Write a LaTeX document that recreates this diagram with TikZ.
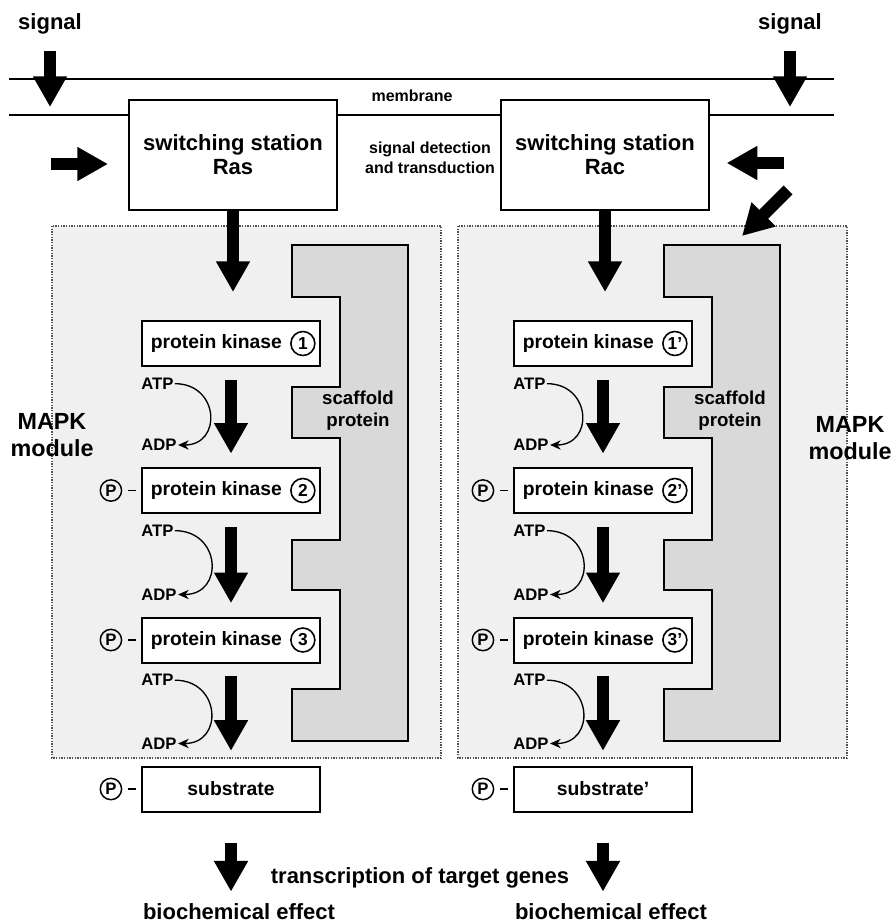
\documentclass[tikz,border=0pt]{standalone}
\usepackage{fontspec}
\setmainfont{Liberation Sans}
\usetikzlibrary{arrows.meta,positioning,calc}

\begin{document}
\begin{tikzpicture}[x=0.75pt, y=-0.75pt, font=\bfseries,
  blk/.style={line width=9.5pt, -{Triangle[width=24pt,length=23pt]}},
  box/.style={draw, line width=1.5pt, fill=white, inner sep=0pt},
  kin/.style={box, minimum width=133.5pt, minimum height=33.75pt, font=\fontsize{14.5}{17}\bfseries},
  num/.style={circle, draw, line width=1.2pt, inner sep=0pt, minimum size=18pt, font=\fontsize{13}{15}\bfseries},
  pho/.style={circle, draw, line width=1.1pt, inner sep=0pt, minimum size=16pt, font=\fontsize{12.5}{14}\bfseries},
  nuc/.style={font=\fontsize{12.5}{14}\bfseries, inner sep=1pt},
  big/.style={font=\fontsize{16.5}{18}\bfseries, align=center, inner sep=0pt},
  bond/.style={line width=1.2pt, shorten <=4.5pt, shorten >=3.5pt},
  atp/.style={line width=1pt, -{Stealth[length=8pt,width=7pt]}, out=0, in=0, looseness=1.85},
  module/.style={draw=gray!65!black, densely dotted, line width=1pt, fill=gray!12},
  scaf/.style={draw, line width=1.4pt, fill=gray!30},
]
  \useasboundingbox (0,0) rectangle (893,924);

  % membrane
  \draw[line width=1.3pt] (9,79) -- (834,79) (9,115) -- (834,115);
  \node[font=\fontsize{12}{14}\bfseries] (mem) at (412,96) {membrane};

  % the two MAPK modules
  \draw[module] (52,226) rectangle (441,758);
  \draw[module] (458,226) rectangle (847,758);

  \foreach \dx/\s/\m/\pr in {0/L/Ras/{}, 372/R/Rac/'} {
  \begin{scope}[shift={(\dx,0)}]
    \node[box, big, minimum width=156pt, minimum height=83pt] (sw\s) at (233,155) {switching station\\\m};
    \coordinate (in\s) at (233,292);
    \draw[blk] (sw\s) -- (in\s);

    % scaffold
    \draw[scaf] (292,245) -- (408,245) -- (408,741) -- (292,741) -- (292,689)
      -- (340,689) -- (340,590) -- (292,590) -- (292,540) -- (340,540)
      -- (340,438) -- (292,438) -- (292,387) -- (340,387) -- (340,297)
      -- (292,297) -- cycle;
    \node[align=center, font=\fontsize{14}{16.5}\bfseries] (scaf\s) at (358,411) {scaffold\\protein};

    % kinase cascade
    \node[kin] (k1\s) at (231,343.5) {protein kinase\kern22pt};
    \node[kin] (k2\s) at (231,490.5) {protein kinase\kern22pt};
    \node[kin] (k3\s) at (231,640) {protein kinase\kern22pt};
    \node[kin] (sub\s) at (231,789) {substrate\pr};
    \node[num, left=4pt of k1\s.east] (n1\s) {1\pr};
    \node[num, left=4pt of k2\s.east] (n2\s) {2\pr};
    \node[num, left=4pt of k3\s.east] (n3\s) {3\pr};

    \node[pho, left=14pt of k2\s] (p2\s) {P};
    \node[pho, left=14pt of k3\s] (p3\s) {P};
    \node[pho, left=14pt of sub\s] (ps\s) {P};
    \draw[bond] (p2\s) -- (k2\s);
    \draw[bond] (p3\s) -- (k3\s);
    \draw[bond] (ps\s) -- (sub\s);

    \draw[blk, shorten <=10pt, shorten >=10pt] (k1\s) -- (k2\s);
    \draw[blk, shorten <=10pt, shorten >=10pt] (k2\s) -- (k3\s);
    \draw[blk, shorten <=9pt, shorten >=11pt] (k3\s) -- (sub\s);

    \node[nuc, below right=7pt and -1pt of k1\s.south west] (atp1\s) {ATP};
    \node[nuc, above right=11pt and -1pt of k2\s.north west] (adp1\s) {ADP};
    \node[nuc, below right=7pt and -1pt of k2\s.south west] (atp2\s) {ATP};
    \node[nuc, above right=11pt and -1pt of k3\s.north west] (adp2\s) {ADP};
    \node[nuc, below right=7pt and -1pt of k3\s.south west] (atp3\s) {ATP};
    \node[nuc, above right=11pt and -1pt of sub\s.north west] (adp3\s) {ADP};
    \draw[atp] (atp1\s.east) to (adp1\s.east);
    \draw[atp] (atp2\s.east) to (adp2\s.east);
    \draw[atp] (atp3\s.east) to (adp3\s.east);

    % output
    \node[big] (bio\s) at (239,912) {biochemical effect};
    \draw[blk, shorten <=23pt, shorten >=9pt] (sub\s) -- (sub\s |- bio\s.north);
  \end{scope}
  }

  % signals
  \node[big] (sigL) at (50,24) {signal};
  \node[big] (sigR) at (790,24) {signal};
  \coordinate (tipL) at (50,107);
  \coordinate (tipR) at (790,107);
  \draw[blk, shorten <=12pt] (sigL.south) -- (tipL);
  \draw[blk, shorten <=12pt] (sigR.south) -- (tipR);

  \coordinate (hinL) at (51,164);
  \coordinate (hinR) at (784,163);
  \draw[blk, shorten >=15pt] (hinL) -- (hinL -| swL.west);
  \draw[blk, shorten >=12.5pt] (hinR) -- (hinR -| swR.east);
  \coordinate (dgA) at (788,190);
  \coordinate (dgB) at (742,236);
  \draw[blk] (dgA) -- (dgB);

  \node[align=center, font=\fontsize{12}{15}\bfseries] (det) at (430,158) {signal detection\\and transduction};

  \node[big, font=\fontsize{17.5}{20}\bfseries] (modL) at (52,435) {MAPK\\module};
  \node[big, font=\fontsize{17.5}{20}\bfseries] (modR) at (850,438) {MAPK\\module};

  \node[big] (tra) at (420,878) {transcription of target genes};
\end{tikzpicture}
\end{document}
